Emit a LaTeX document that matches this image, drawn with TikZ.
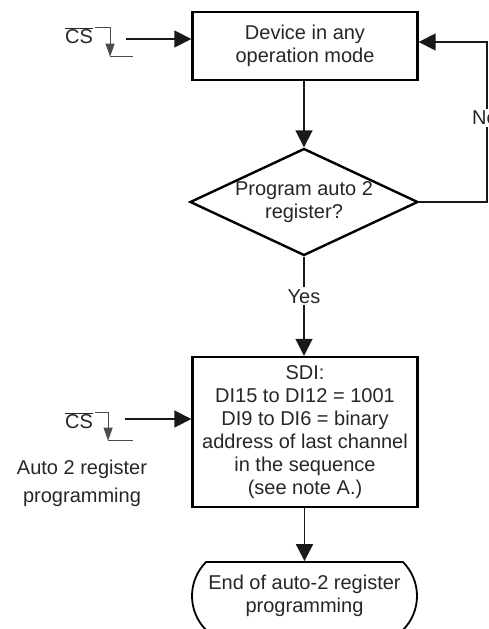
\documentclass[tikz,border=0pt]{standalone}
\usepackage{fontspec}
\setmainfont{Liberation Sans}
\usetikzlibrary{shapes.geometric, shapes.misc, arrows.meta}

\begin{document}
\begin{tikzpicture}[x=1pt, y=-1pt,
  txt/.style={font=\fontsize{20}{23}\selectfont, text=black!85, align=center},
  bx/.style={txt, draw, line width=2.4pt, minimum width=225pt, inner sep=0pt},
  dm/.style={txt, draw, diamond, line width=2.4pt, shape aspect=2.13,
             minimum width=228pt, minimum height=107pt, inner sep=0pt},
  tm/.style={txt, draw, rounded rectangle, rounded rectangle arc length=90,
             line width=1.8pt, minimum width=225pt, minimum height=68pt, inner sep=0pt},
  fl/.style={line width=1.8pt, black!90, -{Triangle[length=17pt,width=17pt]}},
  sg/.style={line width=0.8pt, black!70},
  >=stealth]
\useasboundingbox (0,0) rectangle (489,629);
\clip (0,0) rectangle (489,629);

\node[bx, minimum height=68pt] (dev) at (305,46) {Device in any\\operation mode};
\node[dm] (dec) at (304,202) {Program auto 2\\register?};
\node[bx, minimum height=150pt] (sdi) at (305,432)
  {SDI:\\DI15 to DI12 = 1001\\DI9 to DI6 = binary\\address of last channel\\in the sequence\\(see note A.)};
\node[tm] (end) at (304.5,596) {End of auto-2 register\\programming};

% main flow
\draw[fl] (dev.south -| dec.north) -- (dec.north);
\draw[fl] (dec.south) -- node[txt, fill=white, inner sep=2pt, pos=0.4] (yes) {Yes} (dec.south |- sdi.north);
\draw[fl] (sdi.south -| end.north) -- (end.north);

% loop back
\coordinate (lp1) at (487,202);
\coordinate (lp2) at (487,42);
\draw[fl, line width=1.6pt] (dec.east) -- (lp1) -- (lp2) -- (lp2 -| dev.east);
\node[txt, fill=white, inner sep=2pt] (no) at (485,118) {No};

% chip select inputs
\node[txt, inner sep=0pt] (cs1) at (79,36) {$\overline{\hbox{CS}}$};
\node[txt, inner sep=0pt] (cs2) at (79,421) {$\overline{\hbox{CS}}$};
\coordinate (c1) at ([xshift=2pt]cs1.north east);
\coordinate (c2) at ([xshift=2pt]cs2.north east);
\draw[sg, -{Triangle[length=13pt,width=9pt]}] (c1) -- ++(15,0) -- ++(0,29);
\draw[sg] (c1) ++(15,29) -- ++(23,0);
\draw[sg, -{Triangle[length=13pt,width=9pt]}] (c2) -- ++(13,0) -- ++(0,28);
\draw[sg] (c2) ++(13,28) -- ++(25,0);
\coordinate (i1) at (126,39);
\coordinate (i2) at (125,419);
\draw[fl] (i1) -- (i1 -| dev.west);
\draw[fl] (i2) -- (i2 -| sdi.west);

\node[txt] (lbl) at (82,483) {Auto 2 register\\[5pt]programming};
\end{tikzpicture}
\end{document}
